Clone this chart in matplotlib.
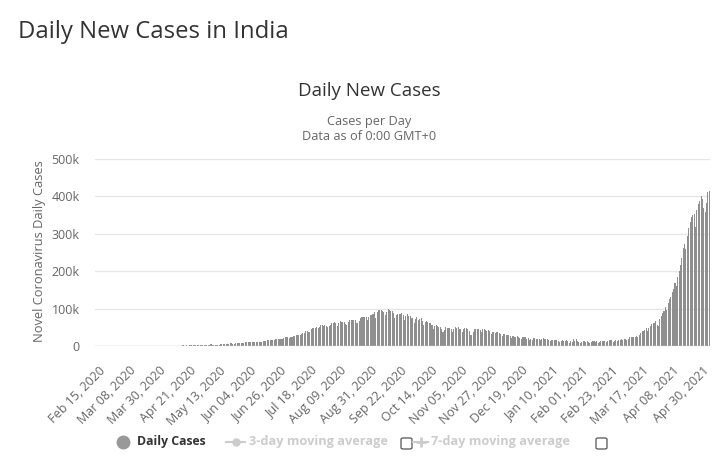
import matplotlib
matplotlib.use("Agg")
from matplotlib import pyplot as plt
from matplotlib import transforms
from matplotlib.patches import FancyBboxPatch
from matplotlib.lines import Line2D
import numpy as np
import pandas as pd

plt.rcParams['font.family'] = ['Open Sans', 'DejaVu Sans']

# Daily new cases (one list per month)
start_date = "2020-02-15"
feb_2020 = [0] * 15
mar_2020 = [0, 2, 1, 22, 2, 1, 3, 5, 4, 13,
            6, 11, 10, 20, 11, 15, 28, 14, 44, 58,
            86, 68, 102, 121, 69, 96, 149, 107, 94, 227, 146]
apr_2020 = [437, 235, 478, 525, 505, 704, 508, 485, 591, 896,
            768, 758, 1243, 1031, 886, 1061, 922, 1370, 1580, 1239,
            1537, 1292, 1667, 1408, 1835, 1607, 1568, 1902, 1705, 1801]
may_2020 = [2396, 2564, 2952, 3656, 2971, 3602, 3344, 3113, 4353, 3607,
            3524, 3763, 3942, 3787, 3970, 4987, 5242, 4630, 6147, 5611,
            6088, 6654, 6767, 6977, 6535, 6387, 7466, 7254, 8138, 8364, 7761]
jun_2020 = [8392, 8171, 9633, 9889, 9471, 10438, 10864, 9987, 9985, 10956,
            11929, 11502, 10667, 10032, 11314, 12881, 13586, 14516, 15413, 14933,
            14821, 15968, 16922, 17296, 18552, 19906, 19459, 18522, 18653, 19148]
jul_2020 = [20903, 22771, 24850, 24248, 22252, 23135, 24879, 26506, 27114, 28637,
            28701, 28498, 29429, 32695, 34956, 34884, 38902, 40425, 37148, 37724,
            45720, 49310, 48916, 48661, 49931, 47703, 52123, 55078, 57118, 54735, 57117]
aug_2020 = [52972, 52050, 52509, 56282, 62538, 61537, 64399, 62064, 53601, 60963,
            66999, 64553, 65002, 63489, 57981, 55079, 64531, 69652, 68898, 69878,
            70488, 69239, 61408, 60975, 67151, 75760, 77266, 76472, 78761, 78512, 69921]
sep_2020 = [78357, 83883, 83341, 86432, 90632, 75809, 89706, 95735, 96551, 97570,
            94372, 92071, 83809, 90123, 97894, 96424, 93337, 92605, 86961, 75083,
            83347, 86508, 86052, 85362, 88600, 82767, 70589, 80472, 86821, 81484]
oct_2020 = [79476, 75829, 74442, 61267, 72049, 78524, 70496, 73272, 74383, 66732,
            55342, 63509, 67708, 63371, 62212, 61871, 55722, 46790, 54044, 55839,
            53370, 50129, 50356, 45148, 36470, 43893, 49881, 48648, 48268, 46963, 45231]
nov_2020 = [38310, 46253, 50210, 47638, 50357, 45674, 45903, 38073, 44281, 47905,
            48648, 44879, 41100, 30548, 29163, 38617, 45576, 45882, 46232, 45209,
            44059, 37975, 44376, 44489, 43082, 41322, 41810, 38772, 31118, 38584]
dec_2020 = [36604, 35551, 36594, 36652, 36011, 32981, 26567, 32080, 31521, 29398,
            30005, 30254, 27071, 22065, 26382, 24010, 22890, 26624, 25152, 22272,
            19556, 23950, 24712, 23068, 18732, 22273, 16432, 20021, 16432, 20549, 22065]
jan_2021 = [20035, 19078, 18177, 16504, 18088, 20346, 18139, 18222, 18645, 16311,
            12584, 15968, 16946, 15590, 15158, 15144, 13788, 10064, 13823, 15223,
            14545, 14256, 14849, 13203, 9102, 12689, 11666, 18855, 13083, 18182, 13052]
feb_2021 = [11427, 8635, 11039, 12899, 12408, 11713, 12059, 11831, 9110, 11067,
            12923, 12143, 11395, 12194, 9121, 11610, 12881, 13193, 13993, 14264,
            10584, 13742, 16738, 16577, 16752, 11795, 14199, 16488]
mar_2021 = [12286, 15510, 14989, 17407, 16838, 18327, 18711, 15388, 17921, 22854,
            22854, 23285, 24882, 25320, 26291, 24492, 28903, 35871, 39726, 40953,
            43846, 46951, 40715, 47262, 53476, 59118, 62258, 62714, 68020, 56211, 53480]
apr_2021 = [72330, 81466, 89129, 93249, 103558, 96982, 115736, 126789, 131968, 145384,
            152879, 168912, 161736, 184372, 200739, 217353, 234692, 261500, 273810, 259170,
            295041, 314644, 332503, 346232, 349313, 352991, 319435, 362902, 379404, 386793]
may_2021 = [401993, 392488, 368060, 357229, 382315, 412262, 414433]

daily_cases = (feb_2020 + mar_2020 + apr_2020 + may_2020 + jun_2020 + jul_2020
               + aug_2020 + sep_2020 + oct_2020 + nov_2020 + dec_2020 + jan_2021
               + feb_2021 + mar_2021 + apr_2021 + may_2021)
dates = pd.date_range(start_date, periods=len(daily_cases), freq="D")

y_ticks = [0, 100000, 200000, 300000, 400000, 500000]
y_labels = ["0", "100k", "200k", "300k", "400k", "500k"]
label_step = 22

W, H = 724, 462
fig = plt.figure(figsize=(W / 100, H / 100), dpi=100)
ax = fig.add_axes([95 / W, 1 - 346 / H, 615 / W, 187 / H])

x = np.arange(len(daily_cases))
ax.bar(x, daily_cases, width=0.75, color="#8f8f8f", edgecolor="none", zorder=3)

ax.set_xlim(-0.5, len(daily_cases) - 0.5)
ax.set_ylim(0, 500000)
ax.set_yticks(y_ticks)
ax.set_yticklabels(y_labels)
ax.grid(axis="y", color="#e6e6e6", linewidth=1, zorder=0)
ax.axhline(0, color="#cfcfcf", linewidth=1, zorder=4)
for s in ax.spines.values():
    s.set_visible(False)

tick_pos = x[::label_step]
ax.set_xticks(tick_pos)
ax.set_xticklabels([d.strftime("%b %d, %Y") for d in dates[::label_step]],
                   rotation=45, ha="right", va="top", rotation_mode="anchor")
ax.tick_params(axis="x", length=0, pad=13, labelsize=9, labelcolor="#666666")
ax.tick_params(axis="y", length=0, pad=11, labelsize=9, labelcolor="#666666")
offset = transforms.ScaledTranslation(3 / 100, 0, fig.dpi_scale_trans)
for lbl in ax.get_xticklabels():
    lbl.set_transform(lbl.get_transform() + offset)

# titles
fig.text(18 / W, 1 - 32 / H, "Daily New Cases in India", fontsize=17.2,
         color="#333333", va="center", ha="left")
fig.text(369 / W, 1 - 91 / H, "Daily New Cases", fontsize=13.5,
         color="#333333", va="center", ha="center")
fig.text(369 / W, 1 - 122 / H, "Cases per Day", fontsize=9.2,
         color="#666666", va="center", ha="center")
fig.text(369 / W, 1 - 136 / H, "Data as of 0:00 GMT+0", fontsize=9.2,
         color="#666666", va="center", ha="center")
fig.text(40 / W, 1 - 251 / H, "Novel Coronavirus Daily Cases", fontsize=9.3,
         color="#666666", rotation=90, va="center", ha="center")

# legend (drawn by hand)
ly = 1 - 442 / H
fig.add_artist(Line2D([123 / W], [ly], marker="o", markersize=9,
                      color="#999999", linestyle="none"))
fig.text(137 / W, ly, "Daily Cases", fontsize=8.8, fontweight="bold",
         color="#333333", va="center", ha="left")
fig.add_artist(Line2D([226 / W, 245 / W], [ly, ly], color="#cccccc", linewidth=1.5))
fig.add_artist(Line2D([235.5 / W], [ly], marker="o", markersize=5,
                      color="#cccccc", linestyle="none"))
fig.text(249 / W, ly, "3-day moving average", fontsize=9.2, fontweight="bold",
         color="#cccccc", va="center", ha="left")
fig.add_artist(Line2D([413 / W, 428 / W], [ly, ly], color="#cccccc", linewidth=1.5))
fig.add_artist(Line2D([420.5 / W], [ly], marker="+", markersize=7, markeredgewidth=2,
                      color="#cccccc", linestyle="none"))
fig.text(431 / W, ly, "7-day moving average", fontsize=9.2, fontweight="bold",
         color="#cccccc", va="center", ha="left")
for bx in (401, 596):
    fig.add_artist(FancyBboxPatch((bx / W, 1 - 449 / H), 11 / W, 11 / H,
                                  boxstyle="round,pad=0,rounding_size=0.003",
                                  facecolor="white", edgecolor="#555555",
                                  linewidth=0.9))

fig.savefig("out.png", dpi=100)
